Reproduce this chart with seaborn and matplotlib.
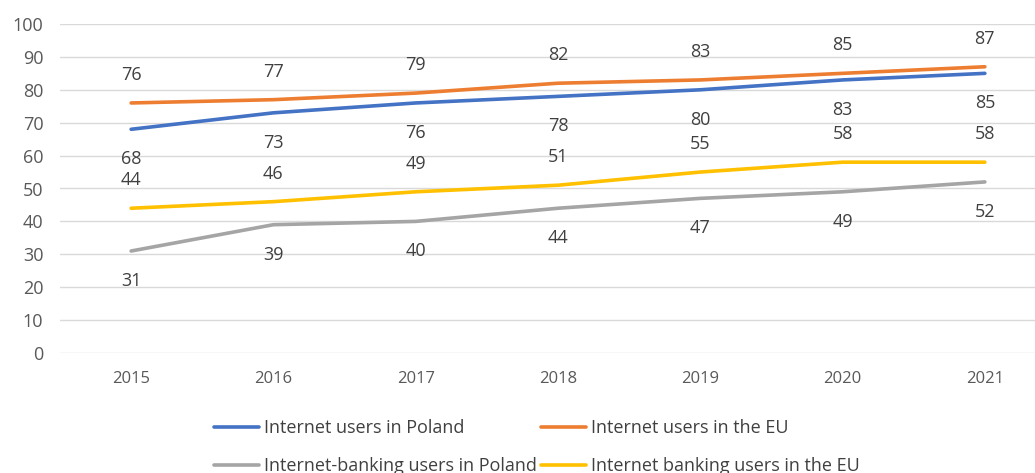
import matplotlib
matplotlib.use("Agg")
import matplotlib.pyplot as plt
import seaborn as sns
import pandas as pd
from matplotlib.lines import Line2D

years = ["2015", "2016", "2017", "2018", "2019", "2020", "2021"]
series_names = [
    "Internet users in Poland",
    "Internet users in the EU",
    "Internet-banking users in Poland",
    "Internet banking users in the EU",
]
internet_pl = [68, 73, 76, 78, 80, 83, 85]
internet_eu = [76, 77, 79, 82, 83, 85, 87]
banking_pl = [31, 39, 40, 44, 47, 49, 52]
banking_eu = [44, 46, 49, 51, 55, 58, 58]
y_ticks = [0, 10, 20, 30, 40, 50, 60, 70, 80, 90, 100]

values = [internet_pl, internet_eu, banking_pl, banking_eu]
colors = ["#4472C4", "#ED7D31", "#A5A5A5", "#FFC000"]
label_side = [-1, 1, -1, 1]  # below / above

rows = []
for name, vals in zip(series_names, values):
    for i, (yr, v) in enumerate(zip(years, vals)):
        rows.append({"idx": i, "year": yr, "value": v, "series": name})
df = pd.DataFrame(rows)

sns.set_theme(style="white")
plt.rcParams["font.family"] = ["Open Sans", "DejaVu Sans"]

fig = plt.figure(figsize=(10.35, 4.73), dpi=100)
ax = fig.add_axes([60 / 1035, 1 - 353 / 473, 996 / 1035, (353 - 24) / 473])

sns.lineplot(data=df, x="idx", y="value", hue="series", hue_order=series_names,
             palette=dict(zip(series_names, colors)), linewidth=2.6,
             ax=ax, legend=False, solid_capstyle="round")

for name, vals, side in zip(series_names, values, label_side):
    for i, v in enumerate(vals):
        off = 28 if side > 0 else -30
        ax.annotate(str(v), (i, v), xytext=(0, off), textcoords="offset pixels",
                    ha="center", va="center", fontsize=13, color="#404040")

ax.set_xlim(-0.5, 6.5)
ax.set_ylim(0, 100)
ax.set_yticks(y_ticks)
ax.set_xticks(range(len(years)))
ax.set_xticklabels(years)
ax.set_xlabel("")
ax.set_ylabel("")
ax.grid(axis="y", color="#D9D9D9", linewidth=1)
ax.grid(axis="x", visible=False)
ax.set_axisbelow(True)
for s in ax.spines.values():
    s.set_visible(False)
ax.tick_params(axis="y", length=0, pad=12, labelsize=13, labelcolor="#595959")
ax.tick_params(axis="x", length=0, pad=13, labelsize=12, labelcolor="#595959")

order = [0, 2, 1, 3]
handles = [Line2D([], [], color=colors[k], linewidth=2.6) for k in order]
labels = [series_names[k] for k in order]
fig.legend(handles, labels, ncol=2, frameon=False, loc="upper left",
           bbox_to_anchor=(205 / 1035, 1 - 410 / 473), fontsize=13,
           handlelength=2.5, handletextpad=0.28, columnspacing=0.22,
           labelspacing=1.1, borderpad=0, labelcolor="#404040")

fig.savefig("out.png", dpi=100)
